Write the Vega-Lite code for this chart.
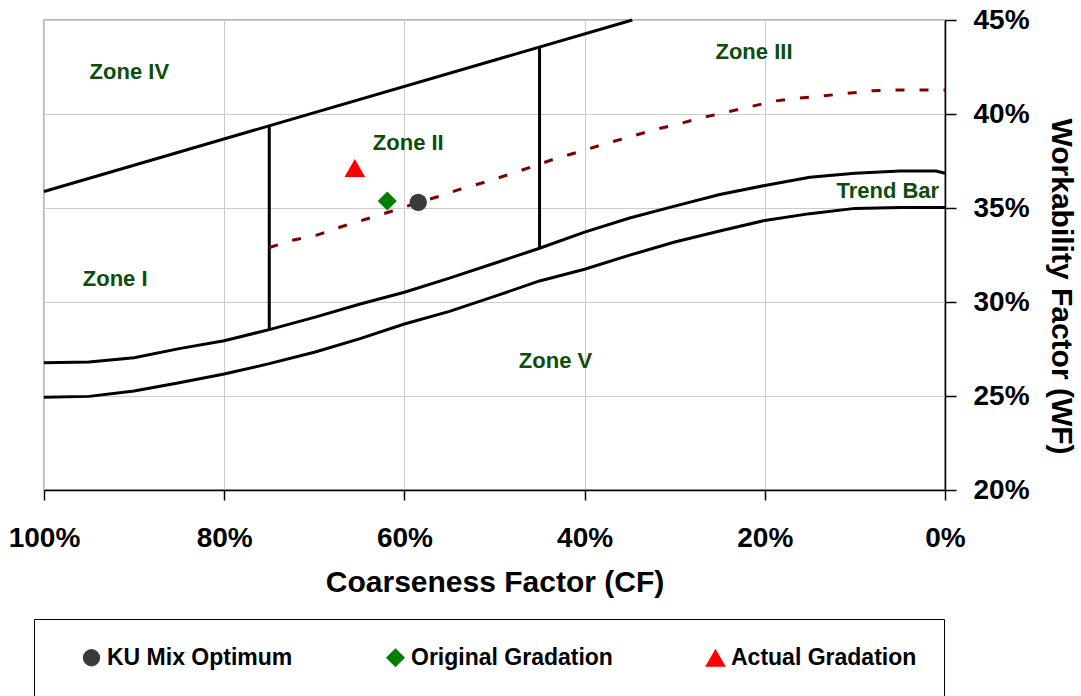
{
  "$schema": "https://vega.github.io/schema/vega-lite/v6.json",
  "width": 901,
  "height": 470,
  "autosize": {"type": "none"},
  "padding": {"left": 44, "top": 20, "right": 136, "bottom": 206},
  "background": "white",
  "config": {
    "font": "Liberation Sans",
    "view": {"stroke": "#a0a0a0", "strokeWidth": 1.5}
  },
  "datasets": {
    "bounds": [
      {"seg": "upper", "cf": 1.0, "wf": 0.3588},
      {"seg": "upper", "cf": 0.347, "wf": 0.45},
      {"seg": "v75", "cf": 0.75, "wf": 0.3935},
      {"seg": "v75", "cf": 0.75, "wf": 0.2855},
      {"seg": "v45", "cf": 0.45, "wf": 0.4357},
      {"seg": "v45", "cf": 0.45, "wf": 0.3283},
      {"seg": "tb_up", "cf": 1.0, "wf": 0.2677},
      {"seg": "tb_up", "cf": 0.95, "wf": 0.2681},
      {"seg": "tb_up", "cf": 0.9, "wf": 0.2703},
      {"seg": "tb_up", "cf": 0.85, "wf": 0.2752},
      {"seg": "tb_up", "cf": 0.8, "wf": 0.2794},
      {"seg": "tb_up", "cf": 0.75, "wf": 0.2853},
      {"seg": "tb_up", "cf": 0.7, "wf": 0.2918},
      {"seg": "tb_up", "cf": 0.65, "wf": 0.2988},
      {"seg": "tb_up", "cf": 0.6, "wf": 0.3052},
      {"seg": "tb_up", "cf": 0.55, "wf": 0.3127},
      {"seg": "tb_up", "cf": 0.5, "wf": 0.3206},
      {"seg": "tb_up", "cf": 0.45, "wf": 0.3286},
      {"seg": "tb_up", "cf": 0.4, "wf": 0.3372},
      {"seg": "tb_up", "cf": 0.35, "wf": 0.3447},
      {"seg": "tb_up", "cf": 0.3, "wf": 0.351},
      {"seg": "tb_up", "cf": 0.25, "wf": 0.3572},
      {"seg": "tb_up", "cf": 0.2, "wf": 0.362},
      {"seg": "tb_up", "cf": 0.15, "wf": 0.3664},
      {"seg": "tb_up", "cf": 0.1, "wf": 0.3685},
      {"seg": "tb_up", "cf": 0.05, "wf": 0.3697},
      {"seg": "tb_up", "cf": 0.01, "wf": 0.3697},
      {"seg": "tb_up", "cf": 0.0, "wf": 0.3685},
      {"seg": "tb_lo", "cf": 1.0, "wf": 0.2493},
      {"seg": "tb_lo", "cf": 0.95, "wf": 0.2498},
      {"seg": "tb_lo", "cf": 0.9, "wf": 0.2527},
      {"seg": "tb_lo", "cf": 0.85, "wf": 0.2571},
      {"seg": "tb_lo", "cf": 0.8, "wf": 0.2617},
      {"seg": "tb_lo", "cf": 0.75, "wf": 0.2672},
      {"seg": "tb_lo", "cf": 0.7, "wf": 0.2733},
      {"seg": "tb_lo", "cf": 0.65, "wf": 0.2804},
      {"seg": "tb_lo", "cf": 0.6, "wf": 0.2883},
      {"seg": "tb_lo", "cf": 0.55, "wf": 0.295},
      {"seg": "tb_lo", "cf": 0.5, "wf": 0.303},
      {"seg": "tb_lo", "cf": 0.45, "wf": 0.3112},
      {"seg": "tb_lo", "cf": 0.4, "wf": 0.3174},
      {"seg": "tb_lo", "cf": 0.35, "wf": 0.3249},
      {"seg": "tb_lo", "cf": 0.3, "wf": 0.3319},
      {"seg": "tb_lo", "cf": 0.25, "wf": 0.3378},
      {"seg": "tb_lo", "cf": 0.2, "wf": 0.3434},
      {"seg": "tb_lo", "cf": 0.15, "wf": 0.347},
      {"seg": "tb_lo", "cf": 0.1, "wf": 0.3498},
      {"seg": "tb_lo", "cf": 0.05, "wf": 0.3503},
      {"seg": "tb_lo", "cf": 0.0, "wf": 0.3503}
    ],
    "ideal": [
      {"cf": 0.75, "wf": 0.329},
      {"cf": 0.723, "wf": 0.333},
      {"cf": 0.697, "wf": 0.3356},
      {"cf": 0.67, "wf": 0.34},
      {"cf": 0.643, "wf": 0.344},
      {"cf": 0.616, "wf": 0.348},
      {"cf": 0.59, "wf": 0.3521},
      {"cf": 0.563, "wf": 0.356},
      {"cf": 0.538, "wf": 0.36},
      {"cf": 0.509, "wf": 0.364},
      {"cf": 0.483, "wf": 0.368},
      {"cf": 0.458, "wf": 0.372},
      {"cf": 0.434, "wf": 0.376},
      {"cf": 0.403, "wf": 0.3803},
      {"cf": 0.376, "wf": 0.3844},
      {"cf": 0.349, "wf": 0.3879},
      {"cf": 0.324, "wf": 0.3915},
      {"cf": 0.297, "wf": 0.3945},
      {"cf": 0.27, "wf": 0.398},
      {"cf": 0.243, "wf": 0.4009},
      {"cf": 0.216, "wf": 0.4039},
      {"cf": 0.189, "wf": 0.4069},
      {"cf": 0.161, "wf": 0.4085},
      {"cf": 0.134, "wf": 0.4097},
      {"cf": 0.108, "wf": 0.411},
      {"cf": 0.08, "wf": 0.4124},
      {"cf": 0.055, "wf": 0.4128},
      {"cf": 0.03, "wf": 0.4128},
      {"cf": 0.0, "wf": 0.4128}
    ],
    "points": [
      {"series": "KU Mix Optimum", "cf": 0.5846, "wf": 0.353},
      {"series": "Original Gradation", "cf": 0.619, "wf": 0.3537},
      {"series": "Actual Gradation", "cf": 0.655, "wf": 0.3713}
    ],
    "zones": [
      {"label": "Zone IV", "cf": 0.9053, "wf": 0.4225},
      {"label": "Zone II", "cf": 0.5957, "wf": 0.3844},
      {"label": "Zone III", "cf": 0.212, "wf": 0.433},
      {"label": "Zone I", "cf": 0.921, "wf": 0.312},
      {"label": "Zone V", "cf": 0.4323, "wf": 0.2687},
      {"label": "Trend Bar", "cf": 0.0635, "wf": 0.3593}
    ]
  },
  "encoding": {
    "x": {
      "field": "cf",
      "type": "quantitative",
      "scale": {"domain": [0, 1], "reverse": true, "nice": false, "zero": false},
      "axis": {
        "title": "Coarseness Factor (CF)",
        "values": [0, 0.2, 0.4, 0.6, 0.8, 1],
        "format": ".0%",
        "labelFontSize": 28,
        "labelFontWeight": "bold",
        "labelColor": "black",
        "labelPadding": 24,
        "labelFlush": false,
        "labelOverlap": false,
        "tickSize": 10,
        "tickColor": "black",
        "tickWidth": 1.5,
        "domainColor": "black",
        "domainWidth": 1.5,
        "gridColor": "#cccccc",
        "gridWidth": 1,
        "titleFontSize": 30,
        "titleFontWeight": "bold",
        "titleColor": "black",
        "titlePadding": 15
      }
    },
    "y": {
      "field": "wf",
      "type": "quantitative",
      "scale": {"domain": [0.2, 0.45], "nice": false, "zero": false},
      "axis": {
        "orient": "right",
        "title": "Workability Factor (WF)",
        "values": [0.2, 0.25, 0.3, 0.35, 0.4, 0.45],
        "format": ".0%",
        "labelFontSize": 28,
        "labelFontWeight": "bold",
        "labelColor": "black",
        "labelPadding": 17,
        "labelFlush": false,
        "labelOverlap": false,
        "tickSize": 11,
        "tickColor": "black",
        "tickWidth": 1.5,
        "domainColor": "black",
        "domainWidth": 1.5,
        "gridColor": "#cccccc",
        "gridWidth": 1,
        "titleFontSize": 30,
        "titleFontWeight": "bold",
        "titleColor": "black",
        "titlePadding": 16,
        "titleY": 266
      }
    }
  },
  "layer": [
    {
      "data": {"name": "bounds"},
      "mark": {"type": "line", "color": "black", "strokeWidth": 3},
      "encoding": {"detail": {"field": "seg", "type": "nominal"}}
    },
    {
      "data": {"name": "ideal"},
      "mark": {"type": "line", "color": "#800000", "strokeWidth": 3, "strokeDash": [9, 15]},
      "encoding": {}
    },
    {
      "data": {"name": "points"},
      "mark": {"type": "point", "filled": true, "opacity": 1},
      "encoding": {
        "size": {
          "field": "series",
          "type": "nominal",
          "scale": {
            "domain": ["KU Mix Optimum", "Original Gradation", "Actual Gradation"],
            "range": [300, 430, 330]
          },
          "legend": null
        },
        "color": {
          "field": "series",
          "type": "nominal",
          "scale": {
            "domain": ["KU Mix Optimum", "Original Gradation", "Actual Gradation"],
            "range": ["#3a3a3a", "#008000", "#ff0000"]
          },
          "legend": {
            "title": " ",
            "titleOrient": "bottom",
            "titleFontSize": 10,
            "titlePadding": 8,
            "orient": "none",
            "legendX": -10,
            "legendY": 599,
            "direction": "horizontal",
            "columns": 3,
            "columnPadding": 72,
            "padding": 27,
            "strokeColor": "black",
            "labelFontSize": 23,
            "labelFontWeight": "bold",
            "labelColor": "black",
            "labelOffset": 4,
            "symbolOffset": 19,
            "symbolSize": 220,
            "labelLimit": 400
          }
        },
        "shape": {
          "field": "series",
          "type": "nominal",
          "scale": {
            "domain": ["KU Mix Optimum", "Original Gradation", "Actual Gradation"],
            "range": ["circle", "diamond", "triangle-up"]
          },
          "legend": {
            "title": " ",
            "titleOrient": "bottom",
            "titleFontSize": 10,
            "titlePadding": 8,
            "orient": "none",
            "legendX": -10,
            "legendY": 599,
            "direction": "horizontal",
            "columns": 3,
            "columnPadding": 72,
            "padding": 27,
            "strokeColor": "black",
            "labelFontSize": 23,
            "labelFontWeight": "bold",
            "labelColor": "black",
            "labelOffset": 4,
            "symbolOffset": 19,
            "symbolSize": 220,
            "labelLimit": 400
          }
        }
      }
    },
    {
      "data": {"name": "zones"},
      "mark": {"type": "text", "fontSize": 22, "fontWeight": "bold", "color": "#0d4d0d", "align": "center", "baseline": "middle"},
      "encoding": {"text": {"field": "label", "type": "nominal"}}
    }
  ]
}
